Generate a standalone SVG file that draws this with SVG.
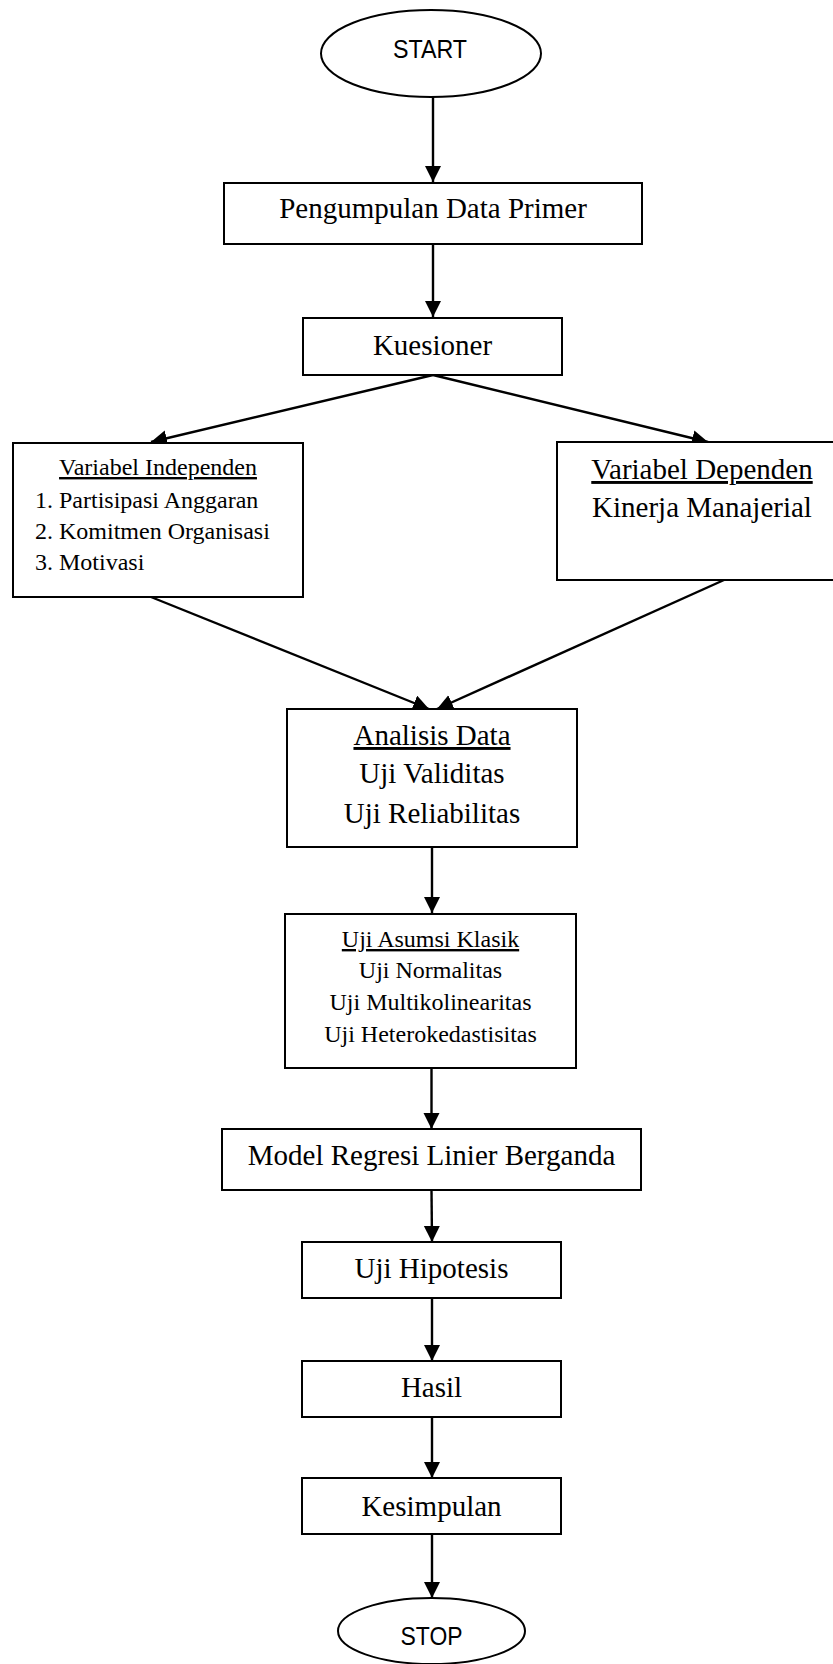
<svg xmlns="http://www.w3.org/2000/svg" width="833" height="1664" viewBox="0 0 833 1664">
<style>
.box{fill:#fff;stroke:#000;stroke-width:2}
.t{font-family:"Liberation Serif","Times New Roman",serif;font-size:29px;fill:#000;text-anchor:middle}
.s{font-family:"Liberation Serif","Times New Roman",serif;font-size:24px;fill:#000}
.m{text-anchor:middle}
.u{text-decoration:underline}
.sans{font-family:"Liberation Sans",Arial,sans-serif;font-size:26px;fill:#000;text-anchor:middle}
.c{stroke:#000;stroke-width:2.4;fill:none}
</style>
<defs>
<marker id="ah" markerUnits="userSpaceOnUse" markerWidth="20" markerHeight="20" viewBox="0 0 20 20" refX="16" refY="8" orient="auto">
<path d="M0,0 L16,8 L0,16 Z" fill="#000"/>
</marker>
</defs>
<rect width="833" height="1664" fill="#fff"/>
<g id="connectors">
<line class="c" x1="433" y1="97" x2="433" y2="182" marker-end="url(#ah)"/>
<line class="c" x1="433" y1="244" x2="433" y2="317" marker-end="url(#ah)"/>
<line class="c" x1="433" y1="375" x2="151" y2="442" marker-end="url(#ah)"/>
<line class="c" x1="433" y1="375" x2="708" y2="442" marker-end="url(#ah)"/>
<line class="c" x1="151" y1="597" x2="429" y2="709" marker-end="url(#ah)"/>
<line class="c" x1="724" y1="580" x2="437" y2="709" marker-end="url(#ah)"/>
<line class="c" x1="432" y1="847" x2="432" y2="913" marker-end="url(#ah)"/>
<line class="c" x1="431.5" y1="1068" x2="431.5" y2="1129" marker-end="url(#ah)"/>
<line class="c" x1="431.5" y1="1190" x2="432" y2="1242" marker-end="url(#ah)"/>
<line class="c" x1="432" y1="1298" x2="432" y2="1361" marker-end="url(#ah)"/>
<line class="c" x1="432" y1="1417" x2="432" y2="1478" marker-end="url(#ah)"/>
<line class="c" x1="432" y1="1534" x2="432" y2="1598" marker-end="url(#ah)"/>
</g>
<g id="start">
<ellipse class="box" cx="431" cy="53.5" rx="110" ry="43.5"/>
<text class="sans" x="430" y="58" textLength="74" lengthAdjust="spacingAndGlyphs">START</text>
</g>
<g id="pengumpulan">
<rect class="box" x="224" y="183" width="418" height="61"/>
<text class="t" x="433" y="218">Pengumpulan Data Primer</text>
</g>
<g id="kuesioner">
<rect class="box" x="303" y="318" width="259" height="57"/>
<text class="t" x="432.5" y="355">Kuesioner</text>
</g>
<g id="independen">
<rect class="box" x="13" y="443" width="290" height="154"/>
<text class="s m u" x="158" y="475">Variabel Independen</text>
<text class="s" x="35" y="508">1. Partisipasi Anggaran</text>
<text class="s" x="35" y="539">2. Komitmen Organisasi</text>
<text class="s" x="35" y="570">3. Motivasi</text>
</g>
<g id="dependen">
<rect class="box" x="557" y="442" width="300" height="138"/>
<text class="t u" x="702" y="479">Variabel Dependen</text>
<text class="t" x="702" y="517">Kinerja Manajerial</text>
</g>
<g id="analisis">
<rect class="box" x="287" y="709" width="290" height="138"/>
<text class="t u" x="432" y="745">Analisis Data</text>
<text class="t" x="432" y="783">Uji Validitas</text>
<text class="t" x="432" y="823">Uji Reliabilitas</text>
</g>
<g id="asumsi">
<rect class="box" x="285" y="914" width="291" height="154"/>
<text class="s m u" x="430.5" y="947">Uji Asumsi Klasik</text>
<text class="s m" x="430.5" y="978">Uji Normalitas</text>
<text class="s m" x="430.5" y="1010">Uji Multikolinearitas</text>
<text class="s m" x="430.5" y="1042">Uji Heterokedastisitas</text>
</g>
<g id="regresi">
<rect class="box" x="222" y="1129" width="419" height="61"/>
<text class="t" x="431.5" y="1165">Model Regresi Linier Berganda</text>
</g>
<g id="hipotesis">
<rect class="box" x="302" y="1242" width="259" height="56"/>
<text class="t" x="431.5" y="1278">Uji Hipotesis</text>
</g>
<g id="hasil">
<rect class="box" x="302" y="1361" width="259" height="56"/>
<text class="t" x="431.5" y="1397">Hasil</text>
</g>
<g id="kesimpulan">
<rect class="box" x="302" y="1478" width="259" height="56"/>
<text class="t" x="431.5" y="1516">Kesimpulan</text>
</g>
<g id="stop">
<ellipse class="box" cx="431.5" cy="1631" rx="93.5" ry="33"/>
<text class="sans" x="431.5" y="1645" textLength="62" lengthAdjust="spacingAndGlyphs">STOP</text>
</g>
</svg>
